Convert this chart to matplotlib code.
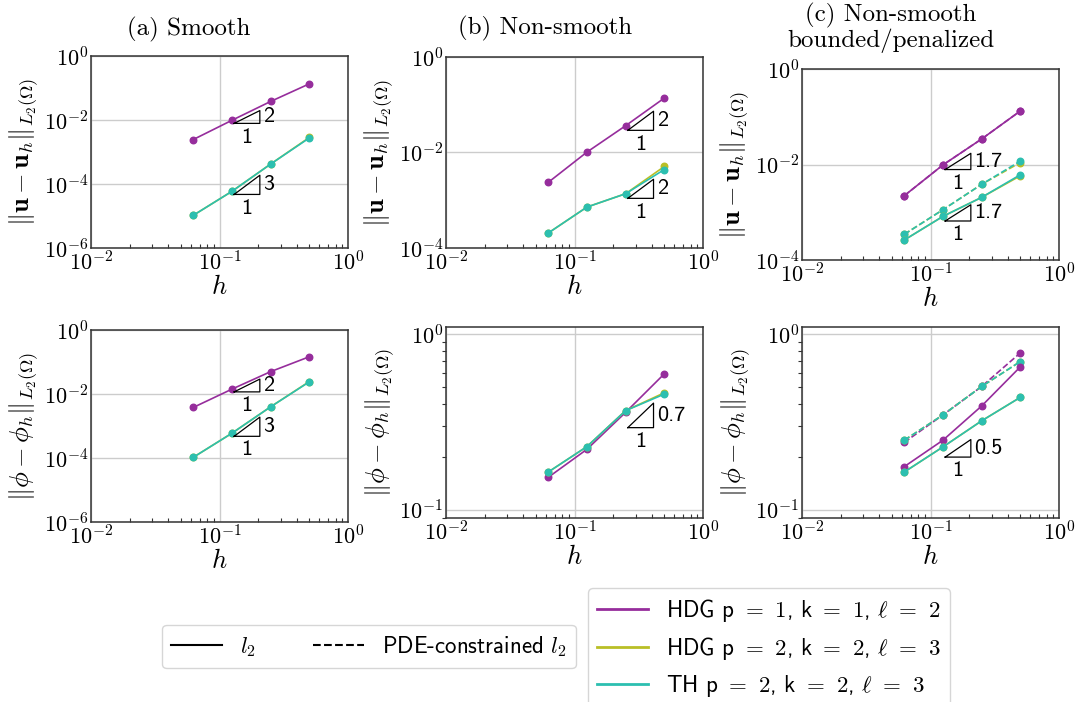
import numpy as np
import matplotlib
matplotlib.use("Agg")
import matplotlib.pyplot as plt
from matplotlib.lines import Line2D

plt.rcParams['mathtext.fontset'] = 'cm'
plt.rcParams['font.family'] = 'serif'
plt.rcParams['font.serif'] = ['cmr10']
plt.rcParams['axes.formatter.use_mathtext'] = True
plt.rcParams['axes.unicode_minus'] = False

# ---------------- data ----------------
h = [0.0625, 0.125, 0.25, 0.5]

# (a) smooth
a_u_hdg1 = [2.45e-3, 9.8e-3, 3.8e-2, 0.135]
a_u_hdg2 = [1.05e-5, 5.9e-5, 4.2e-4, 2.85e-3]
a_u_th = [1.05e-5, 5.9e-5, 4.2e-4, 2.75e-3]
a_phi_hdg1 = [3.8e-3, 1.42e-2, 5.0e-2, 0.146]
a_phi_hdg2 = [1.05e-4, 5.95e-4, 3.98e-3, 2.45e-2]
a_phi_th = [1.05e-4, 5.95e-4, 3.98e-3, 2.4e-2]

# (b) non-smooth
b_u_hdg1 = [2.37e-3, 1.02e-2, 3.64e-2, 0.138]
b_u_hdg2 = [2.06e-4, 7.2e-4, 1.37e-3, 5.1e-3]
b_u_th = [2.06e-4, 7.2e-4, 1.37e-3, 4.4e-3]
b_phi_hdg1 = [0.153, 0.221, 0.359, 0.595]
b_phi_hdg2 = [0.164, 0.229, 0.367, 0.464]
b_phi_th = [0.164, 0.229, 0.367, 0.456]

# (c) non-smooth bounded/penalized: l2 (solid) and PDE-constrained l2 (dashed)
c_u_hdg1 = [2.22e-3, 9.8e-3, 3.42e-2, 0.132]
c_u_hdg2 = [2.62e-4, 8.2e-4, 2.05e-3, 5.8e-3]
c_u_th = [2.62e-4, 8.2e-4, 2.05e-3, 6.1e-3]
c_u_hdg1_pde = [2.22e-3, 9.8e-3, 3.42e-2, 0.132]
c_u_hdg2_pde = [3.45e-4, 1.13e-3, 3.84e-3, 1.1e-2]
c_u_th_pde = [3.45e-4, 1.13e-3, 3.84e-3, 1.18e-2]
c_phi_hdg1 = [0.176, 0.249, 0.390, 0.652]
c_phi_hdg2 = [0.164, 0.228, 0.321, 0.437]
c_phi_th = [0.164, 0.228, 0.321, 0.437]
c_phi_hdg1_pde = [0.242, 0.347, 0.504, 0.783]
c_phi_hdg2_pde = [0.249, 0.347, 0.504, 0.699]
c_phi_th_pde = [0.249, 0.347, 0.504, 0.699]

titles = ["(a) Smooth", "(b) Non-smooth", "(c) Non-smooth\nbounded/penalized"]
legend_labels = [r"HDG $\mathsf{p}$ $=$ $1$, $\mathsf{k}$ $=$ $1$, $\ell$ $=$ $2$",
                 r"HDG $\mathsf{p}$ $=$ $2$, $\mathsf{k}$ $=$ $2$, $\ell$ $=$ $3$",
                 r"TH $\mathsf{p}$ $=$ $2$, $\mathsf{k}$ $=$ $2$, $\ell$ $=$ $3$"]
style_labels = [r"$l_2$", r"PDE-constrained $l_2$"]

# slope triangles: (series, point index, slope, label, offset factor)
tri_a_u = [(a_u_hdg1, 1, 2, "2", 0.8), (a_u_th, 1, 3, "3", 0.8)]
tri_b_u = [(b_u_hdg1, 2, 2, "2", 0.8), (b_u_th, 2, 2, "2", 0.8)]
tri_c_u = [(c_u_hdg1, 1, 1.7, "1.7", 0.8), (c_u_th, 1, 1.7, "1.7", 0.8)]
tri_a_phi = [(a_phi_hdg1, 1, 2, "2", 0.82), (a_phi_th, 1, 3, "3", 0.8)]
tri_b_phi = [(b_phi_th, 2, 0.7, "0.7", 0.8)]
tri_c_phi = [(c_phi_th, 1, 0.5, "0.5", 0.875)]

# ---------------- style ----------------
colors = ['#962d9c', '#b9bf26', '#2cbfb0']
lw = 1.2
ms = 4.7
SANS = 'cmss10'

W, H = 1090, 702
fig = plt.figure(figsize=(W / 100, H / 100), dpi=100)


def pos(L, R, T, B):
    return [L / W, 1 - B / H, (R - L) / W, (B - T) / H]


def style_ax(ax, ylim, yticks):
    ax.set_xscale('log')
    ax.set_yscale('log')
    ax.set_xlim(1e-2, 1)
    ax.set_ylim(*ylim)
    ax.set_xticks([1e-2, 1e-1, 1e0])
    ax.set_yticks(yticks)
    if len(yticks) > 2:
        ax.set_yticks([], minor=True)
    ax.yaxis.set_minor_formatter(matplotlib.ticker.NullFormatter())
    ax.grid(True, which='major', color='#cccccc', lw=1.0)
    ax.set_axisbelow(True)
    ax.tick_params(axis='both', which='major', labelsize=16, length=0, pad=2)
    ax.tick_params(axis='x', which='minor', direction='in', length=3, width=0.8, color='#333333')
    ax.tick_params(axis='y', which='minor', direction='out', length=3, width=0.8, color='#333333')
    for s in ax.spines.values():
        s.set_color('#333333')
        s.set_linewidth(1.1)
    ax.set_xlabel(r"$h$", fontsize=19, labelpad=0)


def triangles(ax, tris):
    for series, i, slope, lab, fac in tris:
        x0 = h[i] * 1.04
        x1 = x0 * 10 ** 0.2
        y0 = series[i] * fac
        y1 = y0 * (x1 / x0) ** slope
        ax.plot([x0, x1, x1, x0], [y0, y0, y1, y0], color='black', lw=0.9, zorder=5)
        ax.annotate(lab, xy=(x1, np.sqrt(y0 * y1)), xytext=(2.5, 0), textcoords='offset points',
                    ha='left', va='center', fontsize=16, family=SANS)
        ax.annotate("1", xy=(np.sqrt(x0 * x1), y0), xytext=(0, -3), textcoords='offset points',
                    ha='center', va='top', fontsize=16, family=SANS)


def draw(ax, ys, ls='-'):
    for y, c in zip(ys, colors):
        ax.plot(h, y, ls, color=c, lw=lw, marker='o', ms=ms, zorder=3)


ylab_u = r"$\|\mathbf{u}-\mathbf{u}_h\|_{L_2(\Omega)}$"
ylab_p = r"$\|\phi-\phi_h\|_{L_2(\Omega)}$"
YL = 19

# top row
ax = fig.add_axes(pos(91, 348, 56, 248))
style_ax(ax, (1e-6, 1), [1e-6, 1e-4, 1e-2, 1e0])
draw(ax, [a_u_hdg1, a_u_hdg2, a_u_th])
triangles(ax, tri_a_u)
ax.set_ylabel(ylab_u, fontsize=YL, labelpad=2)

ax = fig.add_axes(pos(446, 703, 57, 248))
style_ax(ax, (1e-4, 1), [1e-4, 1e-2, 1e0])
draw(ax, [b_u_hdg1, b_u_hdg2, b_u_th])
triangles(ax, tri_b_u)
ax.set_ylabel(ylab_u, fontsize=YL, labelpad=2)

ax = fig.add_axes(pos(802, 1059, 69, 260))
style_ax(ax, (1e-4, 1), [1e-4, 1e-2, 1e0])
draw(ax, [c_u_hdg1_pde, c_u_hdg2_pde, c_u_th_pde], ls='--')
draw(ax, [c_u_hdg1, c_u_hdg2, c_u_th])
triangles(ax, tri_c_u)
ax.set_ylabel(ylab_u, fontsize=YL, labelpad=2)

# bottom row
ax = fig.add_axes(pos(91, 348, 330, 522))
style_ax(ax, (1e-6, 1), [1e-6, 1e-4, 1e-2, 1e0])
draw(ax, [a_phi_hdg1, a_phi_hdg2, a_phi_th])
triangles(ax, tri_a_phi)
ax.set_ylabel(ylab_p, fontsize=YL, labelpad=2)

ax = fig.add_axes(pos(446, 703, 327, 518))
style_ax(ax, (0.0897, 1.1), [1e-1, 1e0])
draw(ax, [b_phi_hdg1, b_phi_hdg2, b_phi_th])
triangles(ax, tri_b_phi)
ax.set_ylabel(ylab_p, fontsize=YL, labelpad=2)

ax = fig.add_axes(pos(802, 1059, 327, 518))
style_ax(ax, (0.0897, 1.1), [1e-1, 1e0])
draw(ax, [c_phi_hdg1_pde, c_phi_hdg2_pde, c_phi_th_pde], ls='--')
draw(ax, [c_phi_hdg1, c_phi_hdg2, c_phi_th])
triangles(ax, tri_c_phi)
ax.set_ylabel(ylab_p, fontsize=YL, labelpad=2)

# titles
fig.text(189 / W, 1 - 29 / H, titles[0], ha='center', va='center', fontsize=18)
fig.text(545 / W, 1 - 28 / H, titles[1], ha='center', va='center', fontsize=18)
fig.text(891 / W, 1 - 28 / H, titles[2], ha='center', va='center', fontsize=18,
         linespacing=1.05)

# legends
h_style = [Line2D([], [], color='black', lw=1.5, ls='-'),
           Line2D([], [], color='black', lw=1.5, ls='--')]
fig.legend(h_style, style_labels, loc='center left', bbox_to_anchor=(162 / W, 1 - 646.5 / H),
           ncol=2, prop={'family': SANS, 'size': 16.5}, handlelength=2.2,
           columnspacing=2.5, borderaxespad=0, frameon=True)
h_col = [Line2D([], [], color=c, lw=2) for c in colors]
fig.legend(h_col, legend_labels, loc='upper left', bbox_to_anchor=(588 / W, 1 - 588 / H),
           ncol=1, prop={'family': SANS, 'size': 16.5}, handlelength=2.2,
           labelspacing=0.47, borderaxespad=0, frameon=True)

fig.savefig("out.png", dpi=100)
